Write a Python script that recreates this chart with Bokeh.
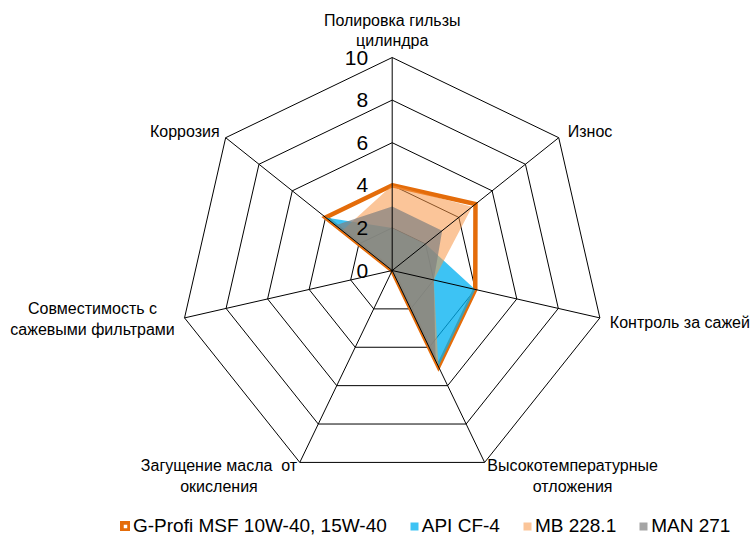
import numpy as np
from bokeh.plotting import figure
from bokeh.models import Range1d, ColumnDataSource, Legend, LegendItem
from bokeh.embed import file_html
from bokeh.resources import INLINE
from bokeh.core.properties import value

# ---------------- data ----------------
categories = [
    "Полировка гильзы\nцилиндра",
    "Износ",
    "Контроль за сажей",
    "Высокотемпературные\nотложения",
    "Загущение масла\u00a0 от\nокисления",
    "Совместимость с\nсажевыми фильтрами",
    "Коррозия",
]
series_names = ["G-Profi MSF 10W-40, 15W-40", "API CF-4", "MB 228.1", "MAN 271"]
gprofi = [4, 5, 4, 5, 0, 0, 4]
api_cf4 = [2, 2, 4, 5, 0, 0, 4]
mb2281 = [4, 4.8, 2, 5, 0, 0, 3]
man271 = [3, 3, 2, 4.7, 0, 0, 3.4]
ticks = [0, 2, 4, 6, 8, 10]
tick_labels = ["0", "2", "4", "6", "8", "10"]
r_max = 10

# ---------------- layout / style ----------------
W, H = 752, 537
CX, CY_TOP = 391.7, 270.0       # centre of the radar in canvas pixels
PX = 21.3                       # pixels per value unit
FONT = value("Liberation Sans")

n = len(categories)
theta = np.pi / 2 - 2 * np.pi * np.arange(n) / n
cos_t, sin_t = np.cos(theta), np.sin(theta)


def polar(vals):
    v = np.asarray(vals, dtype=float)
    return list(v * cos_t), list(v * sin_t)


p = figure(
    width=W, height=H, output_backend="svg", toolbar_location=None,
    x_range=Range1d(-CX / PX, (W - CX) / PX),
    y_range=Range1d(-(H - CY_TOP) / PX, CY_TOP / PX),
    x_axis_type=None, y_axis_type=None, min_border=0,
    outline_line_color=None, background_fill_color="white",
)
p.grid.visible = False

# rings
ring_xs, ring_ys = [], []
for t in ticks[1:]:
    xs, ys = polar([t] * n)
    ring_xs.append(xs + [xs[0]])
    ring_ys.append(ys + [ys[0]])
p.multi_line(ring_xs, ring_ys, line_color="black", line_width=1)

# series
r_g = p.patch(*polar(gprofi), fill_color=None, line_color="#E46C0A",
              line_width=4.5, line_join="miter")
r_a = p.patch(*polar(api_cf4), fill_color="#00B0F0", fill_alpha=0.76, line_color=None)
r_m = p.patch(*polar(mb2281), fill_color="#F79646", fill_alpha=0.55, line_color=None)
r_n = p.patch(*polar(man271), fill_color="#7F7F7F", fill_alpha=0.70, line_color=None)

# spokes
ex, ey = polar([r_max] * n)
p.segment(x0=[0] * n, y0=[0] * n, x1=ex, y1=ey, line_color="black", line_width=1)

# value tick labels along the first spoke
p.text(x=[0] * len(ticks), y=ticks, text=tick_labels, x_offset=-24,
       text_align="right", text_baseline="middle", text_font=FONT,
       text_font_size="21px", text_color="black")

# category labels
lab = ColumnDataSource(dict(
    x=ex, y=ey, text=categories,
    xo=[0, 9, 10, 88, -80.8, -92, -6],
    yo=[-8, -6, 4.6, -5, -5, 1, -6],
    align=["center", "left", "left", "center", "center", "center", "right"],
    base=["bottom", "middle", "middle", "top", "top", "middle", "middle"],
))
p.text(x="x", y="y", text="text", x_offset="xo", y_offset="yo",
       text_align="align", text_baseline="base", source=lab,
       text_font=FONT, text_font_size="16px", text_color="black",
       text_line_height=1.2)

legend = Legend(
    items=[LegendItem(label=nm, renderers=[r]) for nm, r in
           zip(series_names, [r_g, r_a, r_m, r_n])],
    orientation="horizontal", location=(120, 0),
    border_line_color=None, background_fill_alpha=0,
    padding=0, margin=0, spacing=22, glyph_width=10, glyph_height=10,
    label_standoff=3, label_text_font="Liberation Sans",
    label_text_font_size="19px", label_text_color="black",
)
p.add_layout(legend)

open("out.html", "w").write(file_html(p, INLINE))
